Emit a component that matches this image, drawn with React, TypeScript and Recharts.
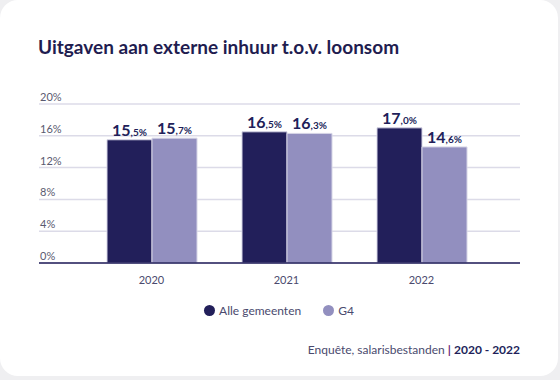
import React from 'react';
import { BarChart, Bar, XAxis, YAxis, CartesianGrid, LabelList } from 'recharts';

const years = ['2020', '2021', '2022'];
const alleGemeenten = [15.5, 16.5, 17.0];
const g4 = [15.7, 16.3, 14.6];
const yTicks = [0, 4, 8, 12, 16, 20];

const data = years.map((year, i) => ({ year, alle: alleGemeenten[i], g4: g4[i] }));

const colors = {
    dark: '#221f5a',
    light: '#928fbf',
    title: '#1f1d50',
    text: '#4a4a6e',
    grid: '#dcdbe8',
    pipe: '#6d1f7a',
};

const font = 'Lato, "Noto Sans", sans-serif';

// y tick: left aligned, sitting on top of the grid line
const YTick = (props: any) => {
    const { y, payload } = props;
    return (
        <text x={40} y={y - 3} textAnchor="start" fontSize={11} fill="#5a5a70" fontFamily={font}>
            {payload.value}%
        </text>
    );
};

// value label: big integer part, small decimal part
const ValueLabel = (props: any) => {
    const { x, y, width, value } = props;
    const [whole, dec] = Number(value).toFixed(1).split('.');
    return (
        <text x={x + width / 2} y={y - 4} textAnchor="middle" fill={colors.dark} fontFamily={font} fontWeight={700}>
            <tspan fontSize={16}>{whole}</tspan>
            <tspan fontSize={10}>,{dec}%</tspan>
        </text>
    );
};

const Dot = ({ color }: { color: string }) => (
    <span style={{ width: 11, height: 11, borderRadius: '50%', background: color, display: 'inline-block' }} />
);

export default function App() {
    return (
        <div style={{ position: 'fixed', left: 0, top: 0, width: 560, height: 380, background: '#efeff1' }}>
            <div style={{ position: 'absolute', left: 0, top: 0, width: 558, height: 376, background: '#fff', borderRadius: 18, overflow: 'hidden' }}>
                <div style={{ position: 'absolute', left: 38, top: 35, fontFamily: font, fontWeight: 700, fontSize: 19, color: colors.title, whiteSpace: 'nowrap' }}>
                    Uitgaven aan externe inhuur t.o.v. loonsom
                </div>
                <div style={{ position: 'absolute', left: 0, top: 0 }}>
                    <BarChart width={560} height={300} data={data} margin={{ top: 104, right: 40, left: 38, bottom: 7 }} barGap={0}>
                        <CartesianGrid vertical={false} stroke={colors.grid} strokeWidth={1.5} />
                        <XAxis
                            dataKey="year"
                            padding={{ left: 45, right: 31 }}
                            axisLine={{ stroke: colors.dark, strokeWidth: 1.5 }}
                            tickLine={false}
                            tick={{ fill: colors.text, fontSize: 11, fontFamily: font }}
                            dy={5}
                        />
                        <YAxis
                            domain={[0, 20]}
                            ticks={yTicks}
                            interval={0}
                            width={1}
                            axisLine={false}
                            tickLine={false}
                            tick={<YTick />}
                        />
                        <Bar dataKey="alle" name="Alle gemeenten" fill={colors.dark} barSize={45} stroke="#d6d5e6" strokeWidth={1} isAnimationActive={false}>
                            <LabelList dataKey="alle" content={<ValueLabel />} />
                        </Bar>
                        <Bar dataKey="g4" name="G4" fill={colors.light} barSize={45} stroke="#d6d5e6" strokeWidth={1} isAnimationActive={false}>
                            <LabelList dataKey="g4" content={<ValueLabel />} />
                        </Bar>
                    </BarChart>
                </div>
                <div style={{ position: 'absolute', left: 0, top: 303, width: 558, display: 'flex', justifyContent: 'center', gap: 22, fontFamily: font, fontSize: 12, color: colors.text }}>
                    <div style={{ display: 'flex', alignItems: 'center', gap: 4 }}>
                        <Dot color={colors.dark} />
                        <span>Alle gemeenten</span>
                    </div>
                    <div style={{ display: 'flex', alignItems: 'center', gap: 4 }}>
                        <Dot color={colors.light} />
                        <span>G4</span>
                    </div>
                </div>
                <div style={{ position: 'absolute', right: 38, top: 342, fontFamily: font, fontSize: 12, color: colors.text, whiteSpace: 'nowrap' }}>
                    Enquête, salarisbestanden <span style={{ color: colors.pipe, fontWeight: 700 }}>|</span>{' '}
                    <span style={{ color: colors.dark, fontWeight: 700 }}>2020 - 2022</span>
                </div>
            </div>
        </div>
    );
}
